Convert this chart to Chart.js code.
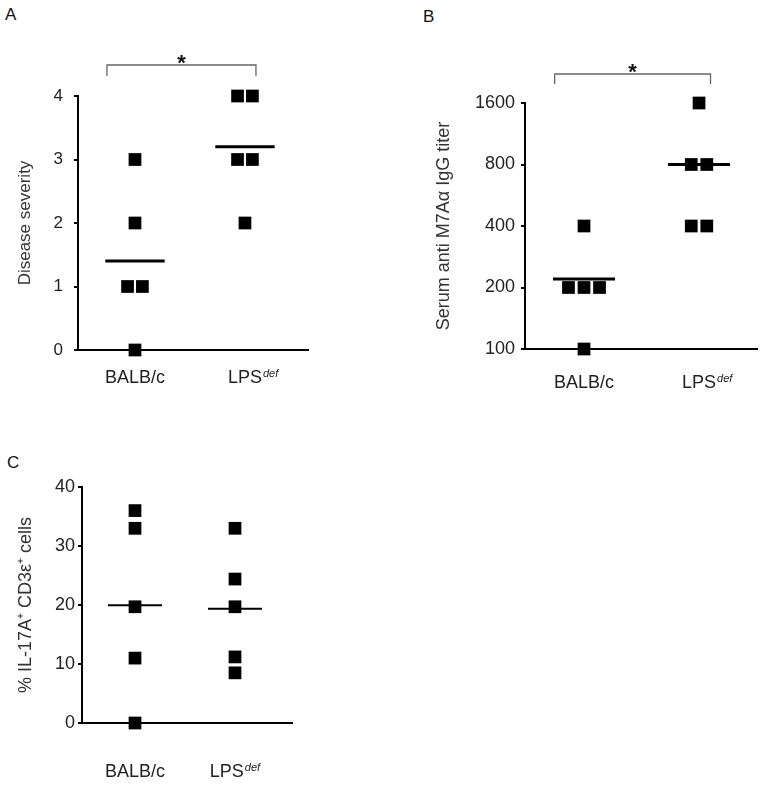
<!DOCTYPE html>
<html>
<head>
<meta charset="utf-8">
<script src="https://cdn.jsdelivr.net/npm/chart.js@4.4.1/dist/chart.umd.min.js"></script>
<style>
    body { margin: 0; background: #fff; width: 768px; height: 785px; position: relative; overflow: hidden; font-family: "Liberation Sans", Arial, sans-serif; }
    .panel { position: absolute; }
    .letter { position: absolute; font-size: 17px; line-height: 17px; color: #111; }
</style>
</head>
<body>
<div class="letter" style="left:5px; top:6px;">A</div>
<div class="letter" style="left:423px; top:8px;">B</div>
<div class="letter" style="left:7px; top:454px;">C</div>
<div class="panel" style="left:0; top:0; width:384px; height:400px;"><canvas id="chartA"></canvas></div>
<div class="panel" style="left:384px; top:0; width:384px; height:400px;"><canvas id="chartB"></canvas></div>
<div class="panel" style="left:0; top:390px; width:384px; height:395px;"><canvas id="chartC"></canvas></div>
<script>
var groups = ["BALB/c", "LPS"];
var groupSup = ["", "def"];

var severityBalb = [3, 2, 1, 1, 0];
var severityLps = [4, 4, 3, 3, 2];
var severityTicks = [0, 1, 2, 3, 4];

var titerBalb = [400, 200, 200, 200, 100];
var titerLps = [1600, 800, 800, 400, 400];
var titerTicks = [100, 200, 400, 800, 1600];

var il17Balb = [36, 33, 19.7, 11, 0];
var il17Lps = [33, 24.4, 19.7, 11.2, 8.5];
var il17Ticks = [0, 10, 20, 30, 40];

var FONT = "'Liberation Sans', Arial, sans-serif";

// tied values sit side by side around the group centre
function spread(values, center, step) {
    return values.map(function (v, i) {
        var ties = values.filter(function (w) { return w === v; }).length;
        var rank = values.slice(0, i).filter(function (w) { return w === v; }).length;
        return { x: center + (rank - (ties - 1) / 2) * step, y: v };
    });
}

function mean(values) {
    return values.reduce(function (a, b) { return a + b; }, 0) / values.length;
}

function meanLine(values, center, width) {
    var m = mean(values);
    return {
        type: "line",
        data: [{ x: center - 0.27, y: m }, { x: center + 0.27, y: m }],
        borderColor: "#000",
        borderWidth: width,
        pointRadius: 0,
        clip: false,
    };
}

function dots(values, center) {
    return {
        type: "scatter",
        data: spread(values, center, 0.135),
        pointStyle: "rect",
        pointRadius: 9,
        pointHoverRadius: 9,
        backgroundColor: "#000",
        borderWidth: 0,
        clip: false,
    };
}

var panelDecor = {
    id: "panelDecor",
    afterDraw: function (chart, args, opts) {
        var ctx = chart.ctx;
        var xs = chart.scales.x;
        var area = chart.chartArea;
        ctx.save();
        ctx.fillStyle = "#222";
        ctx.textBaseline = "alphabetic";
        var base = area.bottom + opts.labelOffset;
        groups.forEach(function (name, i) {
            var px = xs.getPixelForValue(i + 1);
            ctx.font = "18px " + FONT;
            var w = ctx.measureText(name).width;
            var sup = groupSup[i];
            ctx.font = "italic 11px " + FONT;
            var ws = sup ? ctx.measureText(sup).width + 1 : 0;
            var left = opts.centerOnBase ? px - w / 2 : px - (w + ws) / 2;
            ctx.font = "18px " + FONT;
            ctx.fillText(name, left, base);
            if (sup) {
                ctx.font = "italic 11px " + FONT;
                ctx.fillText(sup, left + w + 1, base - 6);
            }
        });
        var b = opts.bracket;
        if (b) {
            var x1 = xs.getPixelForValue(b.from);
            var x2 = xs.getPixelForValue(b.to);
            var y = area.top - b.rise;
            ctx.strokeStyle = "#666";
            ctx.lineWidth = 1.3;
            ctx.beginPath();
            ctx.moveTo(x1, y + b.drop);
            ctx.lineTo(x1, y);
            ctx.lineTo(x2, y);
            ctx.lineTo(x2, y + b.drop);
            ctx.stroke();
            ctx.fillStyle = "#111";
            ctx.font = "bold 22px " + FONT;
            ctx.textAlign = "center";
            ctx.fillText("*", (x1 + x2) / 2, y + 5);
        }
        ctx.restore();
    },
};

function makePanel(canvas, cfg) {
    return new Chart(canvas, {
        data: {
            datasets: [
                dots(cfg.balb, 1),
                dots(cfg.lps, 2),
                meanLine(cfg.balb, 1, cfg.meanWidth),
                meanLine(cfg.lps, 2, cfg.meanWidth),
            ],
        },
        options: {
            responsive: true,
            maintainAspectRatio: false,
            animation: false,
            layout: { padding: { top: cfg.top, right: cfg.right, left: 0, bottom: 0 } },
            scales: {
                x: {
                    type: "linear",
                    min: cfg.xMin,
                    max: cfg.xMax,
                    afterFit: function (s) { s.height = cfg.xHeight; },
                    grid: { display: false },
                    border: { display: true, color: "#000", width: 2 },
                    ticks: { display: false },
                },
                y: {
                    type: cfg.log ? "logarithmic" : "linear",
                    min: cfg.ticks[0],
                    max: cfg.ticks[cfg.ticks.length - 1],
                    afterBuildTicks: function (s) {
                        s.ticks = cfg.ticks.map(function (v) { return { value: v }; });
                    },
                    afterFit: function (s) { s.width = cfg.yWidth; },
                    border: { display: true, color: "#000", width: 2 },
                    grid: { display: true, drawOnChartArea: false, drawTicks: true, tickLength: 4, color: "#000", lineWidth: 2 },
                    ticks: {
                        color: "#222",
                        padding: cfg.tickPad,
                        font: { size: cfg.tickSize, family: FONT },
                        callback: function (v) { return String(v); },
                    },
                    title: {
                        display: true,
                        text: cfg.title,
                        color: "#333",
                        font: { size: cfg.titleSize, family: FONT },
                        padding: { top: cfg.titlePad, bottom: 0 },
                    },
                },
            },
            plugins: {
                legend: { display: false },
                tooltip: { enabled: false },
                panelDecor: {
                    labelOffset: cfg.labelOffset,
                    centerOnBase: cfg.centerOnBase,
                    bracket: cfg.bracket,
                },
            },
        },
        plugins: [panelDecor],
    });
}

makePanel(document.getElementById("chartA"), {
    balb: severityBalb, lps: severityLps, ticks: severityTicks,
    title: "Disease severity", titleSize: 17, titlePad: 15, tickSize: 17, tickPad: 11,
    top: 96, right: 76, yWidth: 78, xHeight: 50, xMin: 0.482, xMax: 2.573,
    meanWidth: 3, labelOffset: 33, centerOnBase: true,
    bracket: { from: 0.745, to: 2.1, rise: 31, drop: 11 },
});

makePanel(document.getElementById("chartB"), {
    balb: titerBalb, lps: titerLps, ticks: titerTicks, log: true,
    title: "Serum anti M7A\u03b1 IgG titer", titleSize: 18, titlePad: 49, tickSize: 18, tickPad: 6,
    top: 103, right: 11, yWidth: 141, xHeight: 51, xMin: 0.487, xMax: 2.504,
    meanWidth: 3, labelOffset: 39, centerOnBase: true,
    bracket: { from: 0.745, to: 2.1, rise: 29, drop: 10 },
});

makePanel(document.getElementById("chartC"), {
    balb: il17Balb, lps: il17Lps, ticks: il17Ticks,
    title: "% IL-17A\u207a CD3\u03b5\u207a cells", titleSize: 18, titlePad: 15, tickSize: 18, tickPad: 3,
    top: 97, right: 92, yWidth: 82, xHeight: 62, xMin: 0.47, xMax: 2.57,
    meanWidth: 2, labelOffset: 54, centerOnBase: false,
    bracket: null,
});
</script>
</body>
</html>
